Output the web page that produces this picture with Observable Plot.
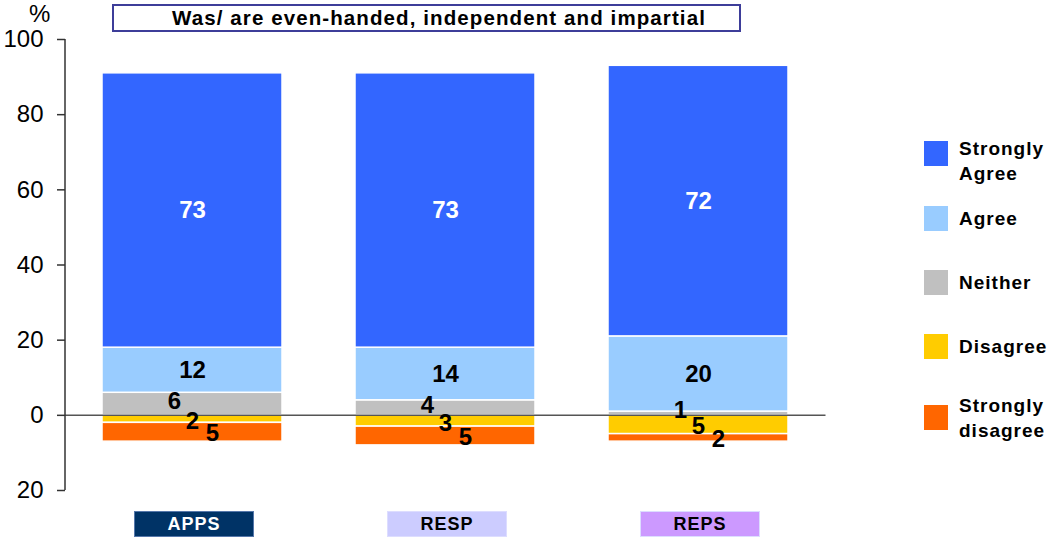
<!DOCTYPE html>
<html><head><meta charset="utf-8">
<script src="https://cdn.jsdelivr.net/npm/d3@7"></script>
<script src="https://cdn.jsdelivr.net/npm/@observablehq/plot@0.6"></script>
<style>
body{margin:0;background:#fff;font-family:"Liberation Sans",Arial,sans-serif;}
#wrap{position:relative;width:1049px;height:541px;overflow:hidden;}
#wrap svg{position:absolute;left:0;top:0;}
.ov{position:absolute;font-family:"Liberation Sans",Arial,sans-serif;}
#title{left:112px;top:4px;width:600px;padding-left:25px;height:24px;border:2px solid #3D3D99;font-weight:bold;font-size:20.5px;letter-spacing:1.1px;line-height:24px;text-align:center;color:#000;background:#fff;white-space:nowrap;}
#pct{left:29px;top:0px;font-size:24px;color:#000;}
.cat{height:26px;width:120px;font-weight:bold;font-size:18px;letter-spacing:1px;line-height:25px;text-align:center;box-sizing:border-box;}
.leg-sw{width:24px;height:25px;}
.leg-tx{font-weight:bold;font-size:19px;letter-spacing:1px;line-height:25px;color:#000;white-space:nowrap;}
</style></head><body><div id="wrap"></div>
<script>
const categories = ["APPS", "RESP", "REPS"];
const stronglyAgree = [73, 73, 72];
const agree = [12, 14, 20];
const neither = [6, 4, 1];
const disagree = [2, 3, 5];
const stronglyDisagree = [5, 5, 2];
const responses = ["Strongly Agree", "Agree", "Neither", "Disagree", "Strongly disagree"];
const responseColors = ["#3366FF", "#99CCFF", "#C0C0C0", "#FFCC00", "#FF6600"];
const yTicks = [-20, 0, 20, 40, 60, 80, 100];
const titleText = "Was/ are even-handed, independent and impartial";
const categoryFill = ["#003366", "#CCCCFF", "#CC99FF"];
const categoryText = ["#FFFFFF", "#000000", "#000000"];

// stacking order: positives upward from zero, negatives downward from zero
const rows = [];
categories.forEach((c, i) => {
  rows.push({cat: c, resp: "Neither", v: neither[i]});
  rows.push({cat: c, resp: "Agree", v: agree[i]});
  rows.push({cat: c, resp: "Strongly Agree", v: stronglyAgree[i]});
  rows.push({cat: c, resp: "Disagree", v: -disagree[i]});
  rows.push({cat: c, resp: "Strongly disagree", v: -stronglyDisagree[i]});
});

const font = "'Liberation Sans', Arial, sans-serif";
const stackOpts = {x: "cat", y: "v", z: "resp", order: null};
const labelMark = (pred, extra) => Plot.text(rows, Plot.stackY({
  ...stackOpts,
  text: d => pred(d) ? String(Math.abs(d.v)) : "",
  fill: d => d.resp === "Strongly Agree" ? "white" : "black",
  fontSize: 24, fontWeight: "bold", fontFamily: font,
  ...extra
}));

const plot = Plot.plot({
  width: 1049,
  height: 541,
  marginLeft: 65,
  marginRight: 223.5,
  marginTop: 39,
  marginBottom: 51,
  style: {fontFamily: font, background: "white"},
  x: {domain: categories, paddingInner: 0.29, paddingOuter: 0.146, axis: null},
  y: {domain: [-20, 100], axis: null},
  color: {domain: responses, range: responseColors},
  marks: [
    Plot.barY(rows, Plot.stackY({...stackOpts, fill: "resp", stroke: "white", strokeWidth: 1.5})),
    Plot.ruleY([0], {stroke: "#555", strokeWidth: 1.5}),
    Plot.axisY({ticks: yTicks, tickFormat: d => String(Math.abs(d)), tickSize: 8, tickPadding: 14, fontSize: 24, stroke: "#333", strokeWidth: 1.5, label: null, color: "black"}),
    labelMark(d => d.resp === "Strongly Agree" || d.resp === "Agree", {}),
    labelMark(d => d.resp === "Neither", {dx: -18, dy: -3}),
    labelMark(d => d.resp === "Disagree", {dx: 0, dy: 2}),
    labelMark(d => d.resp === "Strongly disagree", {dx: 20, dy: 1})
  ]
});

const wrap = document.getElementById("wrap");
wrap.appendChild(plot);

const xs = plot.scale("x");
const ys = plot.scale("y");
const yPix = v => ys.apply ? ys.apply(v) : 39 + (100 - v) / 120 * 451;
const bw = xs.bandwidth;
const xPix = c => xs.apply ? xs.apply(c) : 0;

// y axis line
d3.select(plot).append("line")
  .attr("x1", 65).attr("x2", 65)
  .attr("y1", yPix(100)).attr("y2", yPix(-20))
  .attr("stroke", "#333").attr("stroke-width", 1.5);

// title
const t = document.createElement("div");
t.className = "ov"; t.id = "title"; t.textContent = titleText;
wrap.appendChild(t);
const p = document.createElement("div");
p.className = "ov"; p.id = "pct"; p.textContent = "%";
wrap.appendChild(p);

// category boxes
categories.forEach((c, i) => {
  const d = document.createElement("div");
  d.className = "ov cat";
  const cx = xPix(c) + bw / 2;
  d.style.left = (cx - 60 + 2) + "px";
  d.style.top = (yPix(-20) + 21) + "px";
  d.style.background = categoryFill[i];
  d.style.color = categoryText[i];
  d.style.border = "1px solid " + (i === 0 ? "#5577AA" : "#DDDDFF");
  d.textContent = c;
  wrap.appendChild(d);
});

// legend
const legendTops = [141, 206, 270, 334, 405];
const legendLines = [["Strongly", "Agree"], ["Agree"], ["Neither"], ["Disagree"], ["Strongly", "disagree"]];
responses.forEach((r, i) => {
  const sw = document.createElement("div");
  sw.className = "ov leg-sw";
  sw.style.left = "924px"; sw.style.top = legendTops[i] + "px";
  sw.style.background = responseColors[i];
  wrap.appendChild(sw);
  const tx = document.createElement("div");
  tx.className = "ov leg-tx";
  const lines = legendLines[i];
  tx.style.left = "959px";
  tx.style.top = (legendTops[i] + 12.5 - lines.length * 12.5) + "px";
  if (i === 0) tx.style.top = (legendTops[i] - 5) + "px";
  tx.innerHTML = lines.join("<br>");
  wrap.appendChild(tx);
});
</script></body></html>
